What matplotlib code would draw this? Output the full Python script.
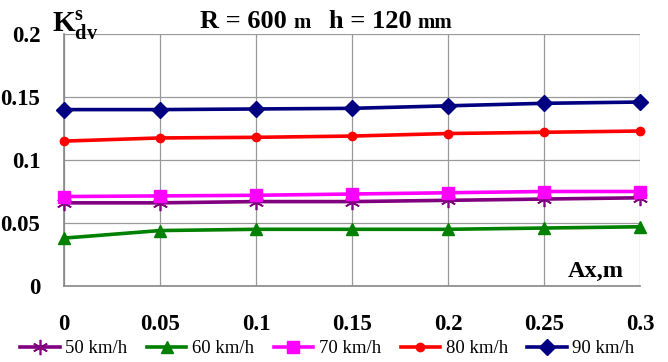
import matplotlib.pyplot as plt

# Data
ax_vals = [0, 0.05, 0.1, 0.15, 0.2, 0.25, 0.3]
k_50 = [0.066, 0.066, 0.067, 0.067, 0.068, 0.069, 0.070]
k_60 = [0.038, 0.044, 0.045, 0.045, 0.045, 0.046, 0.047]
k_70 = [0.071, 0.0715, 0.072, 0.073, 0.074, 0.075, 0.075]
k_80 = [0.115, 0.1175, 0.118, 0.119, 0.121, 0.122, 0.123]
k_90 = [0.140, 0.140, 0.1405, 0.141, 0.143, 0.145, 0.146]
series_labels = ['50 km/h', '60 km/h', '70 km/h', '80 km/h', '90 km/h']
x_ticks = [0, 0.05, 0.1, 0.15, 0.2, 0.25, 0.3]
x_tick_labels = ['0', '0.05', '0.1', '0.15', '0.2', '0.25', '0.3']
y_ticks = [0, 0.05, 0.1, 0.15, 0.2]
y_tick_labels = ['0', '0.05', '0.1', '0.15', '0.2']

serif = 'Liberation Serif'
plt.rcParams['mathtext.fontset'] = 'custom'
plt.rcParams['mathtext.bf'] = 'Liberation Serif:bold'
plt.rcParams['mathtext.rm'] = 'Liberation Serif'
W, H = 668, 362

fig = plt.figure(figsize=(W / 100, H / 100), dpi=100)
ax = fig.add_axes([64 / W, 1 - 286 / H, (640 - 64) / W, (286 - 34) / H])

styles = [
    dict(color='#800080', marker=(6, 2, 0), markersize=11, markeredgewidth=1.2),
    dict(color='#008000', marker='^', markersize=8),
    dict(color='#FF00FF', marker='s', markersize=9),
    dict(color='#FF0000', marker='o', markersize=6),
    dict(color='#000080', marker='D', markersize=8),
]
all_series = [k_50, k_60, k_70, k_80, k_90]
handles = []
for vals, st, lab in zip(all_series, styles, series_labels):
    h, = ax.plot(ax_vals, vals, linewidth=2.6, label=lab, clip_on=False, zorder=3, **st)
    handles.append(h)

ax.set_xlim(0, 0.3)
ax.set_ylim(0, 0.2)
ax.set_xticks(x_ticks)
ax.set_xticklabels(x_tick_labels)
ax.set_yticks(y_ticks)
ax.set_yticklabels(y_tick_labels)
ax.grid(True, color='#999999', linewidth=0.9)
ax.tick_params(axis='y', length=0, pad=17)
ax.tick_params(axis='x', length=0, pad=20)
for lbl in ax.get_xticklabels() + ax.get_yticklabels():
    lbl.set_fontfamily(serif)
    lbl.set_fontweight('bold')
    lbl.set_fontsize(16.5)
for side in ['top', 'right']:
    ax.spines[side].set_visible(False)
for side in ['left', 'bottom']:
    ax.spines[side].set_color('#888888')
    ax.spines[side].set_linewidth(1.2)

# axis labels
ax.text(0.2915, 0.003, 'Ax,m', ha='right', va='bottom', fontfamily=serif,
        fontweight='bold', fontsize=17.5)
fig.text(52 / W, 1 - 32 / H, r'$\mathbf{K}_{\mathbf{dv}}^{\mathbf{s}}$', fontsize=21, va='baseline')

# title pieces
base = 1 - 28 / H
fig.text(200 / W, base, 'R = 600', fontfamily=serif, fontweight='bold', fontsize=19, va='baseline')
fig.text(293 / W, base, 'm', fontfamily=serif, fontweight='bold', fontsize=15, va='baseline')
fig.text(329 / W, base, 'h = 120', fontfamily=serif, fontweight='bold', fontsize=19, va='baseline')
fig.text(417 / W, base, 'mm', fontfamily=serif, fontweight='bold', fontsize=15, va='baseline')

fig.legend(handles=handles, loc='lower left', bbox_to_anchor=(9 / W, -0.018), ncol=5,
           frameon=False, prop={'family': serif, 'size': 13.5}, handlelength=2.1,
           handletextpad=0.3, columnspacing=1.05, borderaxespad=0.2)

fig.savefig('out.png', dpi=100)
